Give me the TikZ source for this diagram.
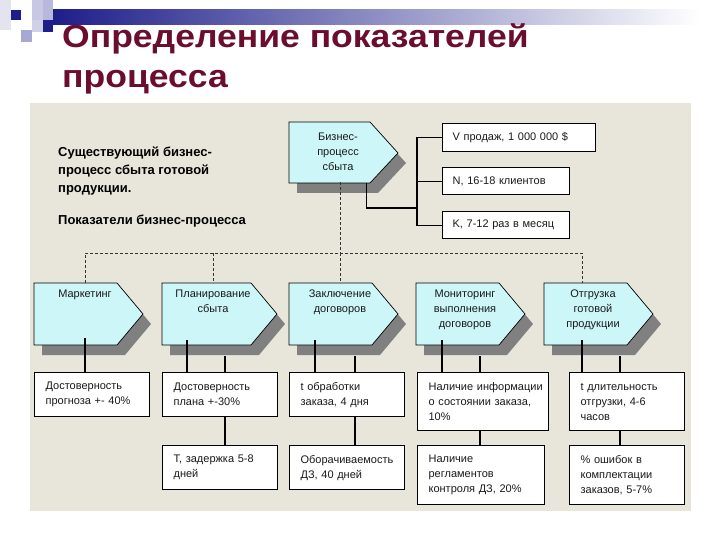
\documentclass[tikz,border=0pt]{standalone}
\usepackage{fontspec}
\setmainfont{Liberation Sans}
\newfontfamily\titlefont[FakeStretch=1.11]{Liberation Sans}
\definecolor{titlec}{HTML}{6B0D2D}
\definecolor{navy}{HTML}{1E1E8A}
\definecolor{panel}{HTML}{E8E6DA}
\definecolor{chevfill}{HTML}{CDF6F8}
\definecolor{shadowc}{HTML}{808080}
\definecolor{txt}{HTML}{1A1A1A}
\definecolor{sqa}{HTML}{E4E4F0}
\definecolor{sqb}{HTML}{C8C8E4}
\definecolor{sqc}{HTML}{B8B8DC}
\definecolor{sqd}{HTML}{D0D0E8}
\definecolor{sqe}{HTML}{A8A8D4}
\definecolor{barmid}{HTML}{A8A8C0}
\tikzset{
  chevst/.style={draw=black, line width=0.7pt, fill=chevfill},
  chevtext/.style={anchor=north, inner sep=0pt, align=center, text=txt, font=\fontsize{11}{15}\selectfont},
  mbox/.style={draw=black, line width=1.2pt, fill=white, anchor=north west, inner xsep=11pt, inner ysep=0pt, align=left, text=txt, font=\fontsize{11}{15}\selectfont},
  vbox/.style={draw=black, line width=1.2pt, fill=white, anchor=north west, inner xsep=10pt, inner ysep=0pt, align=left, text=txt, font=\fontsize{11}{15}\selectfont},
  conn/.style={draw=black, line width=1.1pt},
  dashl/.style={draw=black!80, line width=0.6pt, dash pattern=on 3pt off 2pt},
  boldtxt/.style={anchor=base west, inner sep=0pt, font=\bfseries\fontsize{13}{18}\selectfont},
  titletxt/.style={anchor=base west, inner sep=0pt, text=titlec, font=\titlefont\bfseries\fontsize{32}{40}\selectfont}
}
\newcommand{\chevshape}[5]{%
  \fill[shadowc] (#2+8,293) -- (#2+#3-26+8,293) -- (#2+#3+8,324) -- (#2+#3-26+8,355) -- (#2+8,355) -- cycle;
  \draw[chevst] (#2,283) -- (#2+#3-26,283) -- (#2+#3,314) -- (#2+#3-26,345) -- (#2,345) -- cycle;
  \node[inner sep=0pt, minimum width=#3, minimum height=62, anchor=north west] (#1) at (#2,283) {};
  \node[chevtext] (#1t) at (#4,290) {#5};
}
\begin{document}
\begin{tikzpicture}[x=1pt,y=-1pt]
\useasboundingbox (0,0) rectangle (720,540);
\fill[white] (0,0) rectangle (720,540);
% decoration
\fill[sqa] (0,0) rectangle (11,30);
\fill[navy] (11,10) rectangle (21,20);
\fill[sqb] (32,0) rectangle (43,20);
\fill[sqc] (43,0) rectangle (53,20);
\fill[sqd] (32,20) rectangle (43,32);
\fill[navy] (43,20) rectangle (53,32);
\fill[sqe] (21,30) rectangle (32,42);
\shade[left color=navy, middle color=barmid, right color=white] (53,10) rectangle (700,25);
% title
\node[titletxt] (title1) at (62,48) {Определение показателей};
\node[titletxt] (title2) at (62,88) {процесса};
% panel
\fill[panel] (30,103) rectangle (691,511);
% left texts
\node[boldtxt] (tl1) at (58,157) {Существующий бизнес-};
\node[boldtxt] (tl2) at (58,175) {процесс сбыта готовой};
\node[boldtxt] (tl3) at (58,193) {продукции.};
\node[boldtxt] (tl4) at (58,225) {Показатели бизнес-процесса};
% top process box
\fill[shadowc] (297,132) -- (378,132) -- (406,163) -- (378,193) -- (297,193) -- cycle;
\draw[chevst] (289,122) -- (370,122) -- (398,153) -- (370,183) -- (289,183) -- cycle;
\node[inner sep=0pt, minimum width=109, minimum height=61, anchor=north west] (tb) at (289,122) {};
\node[chevtext, anchor=center] (tbt) at (338,152) {Бизнес-\\процесс\\сбыта};
% top right indicators
\node[vbox, minimum width=153, minimum height=28, text width=133] (v1) at (442,123) {V продаж, 1 000 000 \$};
\node[vbox, minimum width=127, minimum height=27, text width=107] (v2) at (442,167) {N, 16-18 клиентов};
\node[vbox, minimum width=127, minimum height=27, text width=107] (v3) at (442,211) {K, 7-12 раз в месяц};
\coordinate (j) at (417,208);
\draw[conn] ([xshift=22.5]tb.south) |- (j);
\draw[conn] (v1.west) -- ++(-25,0) |- (v3.west);
\draw[conn] (v2.west) -- ++(-25,0);
% chevrons
\chevshape{mk}{34}{109}{85}{Маркетинг}
\chevshape{pl}{162}{115}{213}{Планирование\\сбыта}
\chevshape{zk}{289}{109}{340}{Заключение\\договоров}
\chevshape{mn}{416}{109}{465}{Мониторинг\\выполнения\\договоров}
\chevshape{ot}{544}{109}{593}{Отгрузка\\готовой\\продукции}
% dashed tree
\coordinate (busL) at (85,253);
\coordinate (busR) at (582,253);
\coordinate (busT) at (340,253);
\coordinate (busP) at (213,253);
\draw[dashl] (340,182) -- (busT);
\draw[dashl] (busL |- mk.north) -- (busL) -- (busR) -- (busR |- ot.north);
\draw[dashl] (busP) -- (busP |- pl.north);
\draw[dashl] (busT) -- (busT |- zk.north);
% connector start points
\coordinate (cm) at (85,338);
\coordinate (cp1) at (187,340);
\coordinate (cp2) at (225,356);
\coordinate (cz1) at (315,340);
\coordinate (cz2) at (355,356);
\coordinate (cn1) at (442,340);
\coordinate (cn2) at (480,356);
\coordinate (co1) at (582,340);
\coordinate (co2) at (620,356);
% connectors to metric positions
\coordinate (r1) at (0,372);
\coordinate (r2) at (0,445);
\draw[conn] (cm) -- (cm |- r1);
\draw[conn] (cp1) -- (cp1 |- r1);
\draw[conn] (cp2) -- (cp2 |- r2);
\draw[conn] (cz1) -- (cz1 |- r1);
\draw[conn] (cz2) -- (cz2 |- r2);
\draw[conn] (cn1) -- (cn1 |- r1);
\draw[conn] (cn2) -- (cn2 |- r2);
\draw[conn] (co1) -- (co1 |- r1);
\draw[conn] (co2) -- (co2 |- r2);
% metric boxes
\node[mbox, text width=93, minimum height=44] (m1) at (34,372) {Достоверность\\прогноза +- 40\%};
\node[mbox, text width=93, minimum height=44] (p1) at (162,372) {Достоверность\\плана +-30\%};
\node[mbox, text width=93, minimum height=44] (p2) at (162,445) {Т, задержка 5-8\\дней};
\node[mbox, text width=93, minimum height=44] (z1) at (289,372) {t обработки\\заказа, 4 дня};
\node[mbox, text width=93, minimum height=44] (z2) at (289,445) {Оборачиваемость\\ДЗ, 40 дней};
\node[mbox, text width=109, minimum height=58] (n1) at (417,372) {Наличие~информации\\о состоянии заказа,\\10\%};
\node[mbox, text width=105, minimum height=59] (n2) at (417,445) {Наличие\\регламентов\\контроля ДЗ, 20\%};
\node[mbox, text width=93, minimum height=58] (o1) at (569,372) {t длительность\\отгрузки, 4-6\\часов};
\node[mbox, text width=93, minimum height=59] (o2) at (569,445) {\% ошибок в\\комплектации\\заказов, 5-7\%};
\end{tikzpicture}
\end{document}
